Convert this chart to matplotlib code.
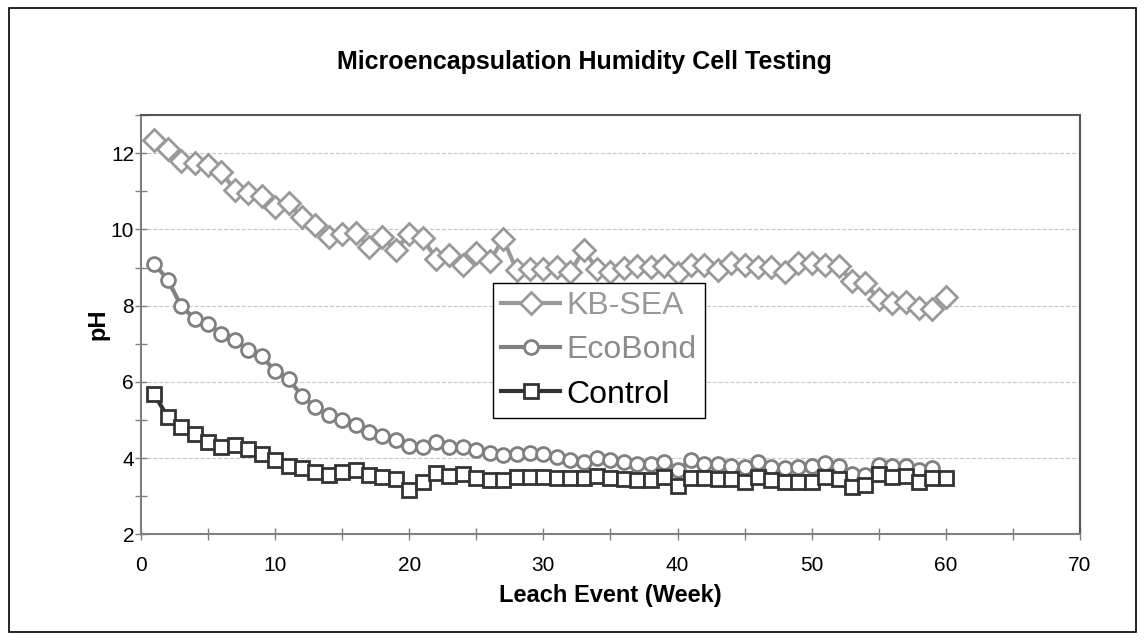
import matplotlib
matplotlib.use("Agg")
import matplotlib.pyplot as plt
from matplotlib.patches import Rectangle
from matplotlib.ticker import MultipleLocator

plt.rcParams['font.family'] = ['Liberation Sans', 'DejaVu Sans']

weeks = list(range(1, 61))

kb_sea = [12.36, 12.10, 11.79, 11.75, 11.69, 11.50, 11.04, 10.95, 10.88, 10.60,
          10.69, 10.32, 10.12, 9.80, 9.89, 9.92, 9.54, 9.80, 9.46, 9.89,
          9.77, 9.23, 9.34, 9.06, 9.37, 9.17, 9.75, 8.94, 8.97, 8.95,
          9.02, 8.88, 9.46, 8.97, 8.88, 9.00, 9.04, 9.02, 9.04, 8.85,
          9.06, 9.06, 8.94, 9.11, 9.08, 9.01, 9.02, 8.88, 9.13, 9.13,
          9.06, 9.04, 8.65, 8.59, 8.17, 8.07, 8.10, 7.95, 7.91, 8.24]

eco_weeks = list(range(1, 60))
ecobond = [9.10, 8.68, 7.99, 7.66, 7.52, 7.26, 7.10, 6.84, 6.67, 6.29,
           6.07, 5.64, 5.33, 5.13, 5.00, 4.87, 4.69, 4.58, 4.48, 4.32,
           4.30, 4.43, 4.30, 4.28, 4.20, 4.13, 4.09, 4.11, 4.13, 4.11,
           4.04, 3.95, 3.91, 4.00, 3.94, 3.89, 3.85, 3.85, 3.91, 3.69,
           3.94, 3.85, 3.85, 3.80, 3.76, 3.89, 3.76, 3.74, 3.76, 3.78,
           3.87, 3.78, 3.59, 3.56, 3.83, 3.78, 3.78, 3.69, 3.74]

control = [5.67, 5.07, 4.82, 4.63, 4.43, 4.30, 4.35, 4.23, 4.11, 3.94,
           3.78, 3.74, 3.64, 3.56, 3.64, 3.69, 3.56, 3.50, 3.44, 3.15,
           3.38, 3.60, 3.53, 3.58, 3.47, 3.43, 3.43, 3.50, 3.51, 3.50,
           3.47, 3.47, 3.47, 3.53, 3.47, 3.44, 3.43, 3.43, 3.51, 3.28,
           3.47, 3.47, 3.45, 3.45, 3.38, 3.50, 3.42, 3.38, 3.38, 3.38,
           3.50, 3.45, 3.25, 3.30, 3.58, 3.51, 3.53, 3.38, 3.47, 3.47]

fig = plt.figure(figsize=(11.45, 6.4), dpi=100)
ax = fig.add_axes([0.1231, 0.1652, 0.8201, 0.6548])

ax.plot(weeks, kb_sea, color='#999999', lw=3, marker='D', ms=11,
        mfc='white', mec='#999999', mew=2, label='KB-SEA', zorder=3)
ax.plot(eco_weeks, ecobond, color='#808080', lw=3, marker='o', ms=10,
        mfc='white', mec='#808080', mew=2, label='EcoBond', zorder=4)
ax.plot(weeks, control, color='#333333', lw=3, marker='s', ms=10,
        mfc='white', mec='#333333', mew=2, label='Control', zorder=5)

ax.set_xlim(0, 70)
ax.set_ylim(2, 13)
ax.xaxis.set_major_locator(MultipleLocator(10))
ax.xaxis.set_minor_locator(MultipleLocator(5))
ax.yaxis.set_major_locator(MultipleLocator(2))
ax.yaxis.set_minor_locator(MultipleLocator(1))
ax.tick_params(which='both', direction='inout', length=8, width=1,
               color='#808080', labelsize=15)
ax.tick_params(axis='x', pad=12)
ax.tick_params(axis='y', pad=1)
ax.grid(axis='y', which='major', color='#c8c8c8', ls='--', lw=0.8)
ax.set_axisbelow(True)

for side in ['left', 'bottom']:
    ax.spines[side].set_color('#808080')
    ax.spines[side].set_linewidth(1.5)
for side in ['top', 'right']:
    ax.spines[side].set_color('#555555')
    ax.spines[side].set_linewidth(1.5)

ax.set_xlabel('Leach Event (Week)', fontsize=17, fontweight='bold', labelpad=6)
ax.set_ylabel('pH', fontsize=17, fontweight='bold', labelpad=1)
fig.text(0.51, 0.903, 'Microencapsulation Humidity Cell Testing',
         ha='center', va='center', fontsize=18, fontweight='bold')

leg = ax.legend(loc='upper left', bbox_to_anchor=(0.375, 0.600),
                borderaxespad=0, fontsize=23, fancybox=False, framealpha=1,
                edgecolor='black', handlelength=1.85, handletextpad=0.2,
                labelspacing=0.45, borderpad=0.25)
leg.get_frame().set_linewidth(1)
for txt, c in zip(leg.get_texts(), ['#999999', '#8c8c8c', 'black']):
    txt.set_color(c)

fig.patches.append(Rectangle((0.008, 0.012), 0.984, 0.975, transform=fig.transFigure,
                             fill=False, edgecolor='black', lw=1.2))

fig.savefig('out.png', dpi=100)
